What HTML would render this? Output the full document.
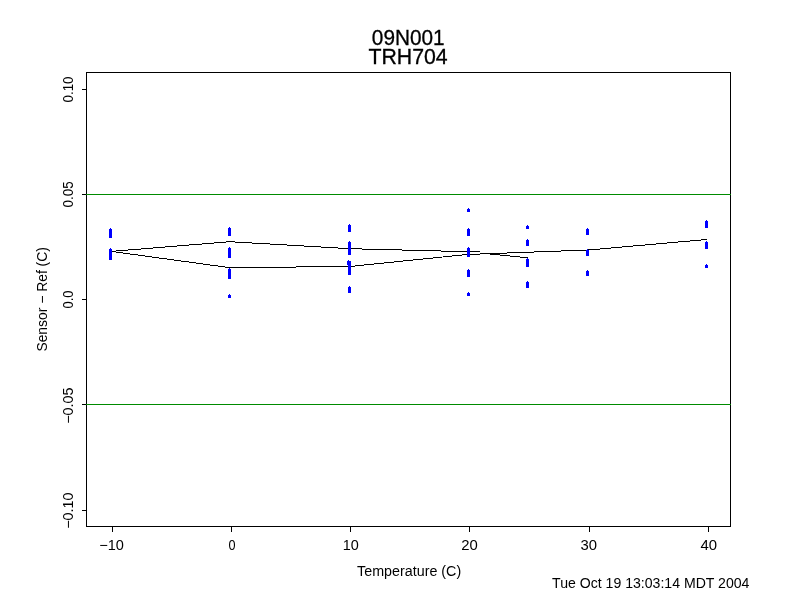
<!DOCTYPE html>
<html lang="en">
<head>
<meta charset="utf-8">
<title>09N001 TRH704</title>
<style>
html,body{margin:0;padding:0;background:#fff;}
body{width:792px;height:612px;overflow:hidden;}
svg{display:block;will-change:transform;}
text{font-family:"Liberation Sans", sans-serif;fill:#000;}
</style>
</head>
<body>
<svg width="792" height="612" viewBox="0 0 792 612">
<rect x="0" y="0" width="792" height="612" fill="#ffffff"/>
<!-- titles, tick labels, axis label, timestamp -->
<text transform="matrix(0.99 0 0 1.008 371.834 44.748)" font-size="21" stroke="#000" stroke-width="0.3">09N001</text>
<text transform="matrix(1.013 0 0 1.008 368.494 63.748)" font-size="21" stroke="#000" stroke-width="0.3">TRH704</text>
<text transform="matrix(1.04 0 0 1.013 99.22 549.873)" font-size="14">−10</text>
<text transform="matrix(0.904 0 0 1.013 228.448 549.873)" font-size="14">0</text>
<text transform="matrix(1.031 0 0 1.013 342.841 549.873)" font-size="14">10</text>
<text transform="matrix(1.063 0 0 1.013 461.303 549.873)" font-size="14">20</text>
<text transform="matrix(1.062 0 0 1.013 580.469 549.873)" font-size="14">30</text>
<text transform="matrix(1.067 0 0 1.013 700.4 549.873)" font-size="14">40</text>
<text transform="matrix(1.022 0 0 1.023 357.117 576.059)" font-size="14">Temperature (C)</text>
<text transform="matrix(1.007 0 0 1.013 552.122 587.873)" font-size="14">Tue Oct 19 13:03:14 MDT 2004</text>
<!-- rotated y tick labels and y axis label -->
<text transform="matrix(0 -0.952 1.013 0 72.873 102.476)" font-size="14">0.10</text>
<text transform="matrix(0 -0.957 1.013 0 72.873 207.478)" font-size="14">0.05</text>
<text transform="matrix(0 -0.925 1.013 0 72.873 308.463)" font-size="14">0.0</text>
<text transform="matrix(0 -1.026 1.013 0 72.873 423.769)" font-size="14">−0.05</text>
<text transform="matrix(0 -1.026 1.013 0 72.873 528.769)" font-size="14">−0.10</text>
<text transform="matrix(0 -0.992 1.023 0 47.059 351.62)" font-size="14">Sensor − Ref (C)</text>
<!-- plot frame and ticks -->
<g fill="#000" shape-rendering="crispEdges">
<rect x="86" y="72" width="645" height="1"/>
<rect x="86" y="526" width="645" height="1"/>
<rect x="86" y="72" width="1" height="455"/>
<rect x="730" y="72" width="1" height="455"/>
<rect x="82" y="89" width="4" height="1"/>
<rect x="82" y="194" width="4" height="1"/>
<rect x="82" y="299" width="4" height="1"/>
<rect x="82" y="404" width="4" height="1"/>
<rect x="82" y="510" width="4" height="1"/>
<rect x="112" y="527" width="1" height="5"/>
<rect x="231" y="527" width="1" height="5"/>
<rect x="350" y="527" width="1" height="5"/>
<rect x="469" y="527" width="1" height="5"/>
<rect x="589" y="527" width="1" height="5"/>
<rect x="708" y="527" width="1" height="5"/>
</g>
<!-- limit lines -->
<g fill="#008b00" shape-rendering="crispEdges">
<rect x="86" y="194" width="645" height="1"/>
<rect x="86" y="404" width="645" height="1"/>
</g>
<!-- fitted curves -->
<g fill="none" stroke="#000" stroke-width="1" shape-rendering="crispEdges">
<polyline points="111.4,251.4 229.9,241.7 350.5,248.73 480,251.98"/>
<polyline points="480,253 528,257.8"/>
<polyline points="111.4,251.4 229.9,267.68 350,266.47 467.3,254.47 588.5,250 707,239.46"/>
</g>
<!-- data points -->
<g fill="#0000ff" shape-rendering="crispEdges">
<path d="M110 228h1v1h1v9h-3v-9h1z"/>
<path d="M110 248h1v1h1v11h-3v-11h1z"/>
<path d="M229 227h1v1h1v8h-3v-8h1z"/>
<path d="M229 247h1v1h1v10h-3v-10h1z"/>
<path d="M229 268h1v1h1v10h-3v-10h1z"/>
<path d="M229 294h1v1h1v3h-3v-3h1z"/>
<path d="M349 224h1v1h1v7h-3v-7h1z"/>
<path d="M349 241h1v1h1v13h-3v-13h1z"/>
<path d="M348 260h1v1h2v14h-3v-10h-1v-4h1z"/>
<path d="M349 286h1v1h1v6h-3v-6h1z"/>
<path d="M468 208h1v1h1v3h-3v-3h1z"/>
<path d="M468 228h1v1h1v7h-3v-7h1z"/>
<path d="M468 247h1v1h1v9h-3v-9h1z"/>
<path d="M468 269h1v1h1v7h-3v-7h1z"/>
<path d="M468 292h1v1h1v3h-3v-3h1z"/>
<path d="M527 225h1v1h1v3h-3v-3h1z"/>
<path d="M527 239h1v1h1v6h-3v-6h1z"/>
<path d="M527 258h1v1h1v8h-3v-8h1z"/>
<path d="M527 281h1v1h1v6h-3v-6h1z"/>
<path d="M587 228h1v1h1v6h-3v-6h1z"/>
<path d="M587 249h1v1h1v6h-3v-6h1z"/>
<path d="M587 270h1v1h1v5h-3v-5h1z"/>
<path d="M706 220h1v1h1v7h-3v-7h1z"/>
<path d="M706 241h1v1h1v7h-3v-7h1z"/>
<path d="M706 264h1v1h1v3h-3v-3h1z"/>
</g>
</svg>
</body>
</html>
